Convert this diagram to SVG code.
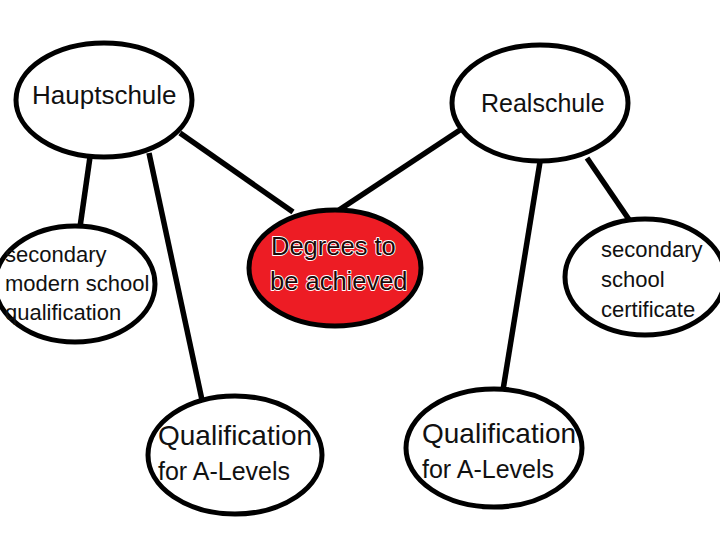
<svg xmlns="http://www.w3.org/2000/svg" width="720" height="540" viewBox="0 0 720 540">
<style>
.node ellipse{fill:#fff;stroke:#000;stroke-width:5}
.node text{font-family:"Liberation Sans",Arial,sans-serif;fill:#111}
.conn line{stroke:#000;stroke-width:5.5;stroke-linecap:butt}
#degrees ellipse{fill:#ed1c24}
#degrees text{fill:#1a0a0a;stroke:#fff;stroke-width:1.8;paint-order:stroke;stroke-linejoin:round}
</style>
<rect width="720" height="540" fill="#fff"/>
<g class="conn" id="connectors">
<line x1="180" y1="133" x2="293" y2="212"/>
<line x1="90" y1="157" x2="80" y2="227"/>
<line x1="149" y1="153" x2="202" y2="400"/>
<line x1="460" y1="130" x2="339" y2="210"/>
<line x1="587" y1="158" x2="630" y2="221"/>
<line x1="540" y1="162" x2="503" y2="390"/>
</g>
<g class="node" id="hauptschule">
<ellipse cx="104" cy="100" rx="88" ry="57"/>
<text x="32" y="104" font-size="26">Hauptschule</text>
</g>
<g class="node" id="realschule">
<ellipse cx="540" cy="103" rx="88" ry="58"/>
<text x="481" y="112" font-size="25">Realschule</text>
</g>
<g class="node" id="degrees">
<ellipse cx="335" cy="268" rx="86" ry="58"/>
<text x="271" y="255" font-size="25.5">Degrees to</text>
<text x="270" y="290" font-size="25.5">be achieved</text>
</g>
<g class="node" id="secondary-modern">
<ellipse cx="75" cy="284" rx="80" ry="58"/>
<text x="5" y="262" font-size="22">secondary</text>
<text x="5" y="291" font-size="22">modern school</text>
<text x="5" y="320" font-size="22">qualification</text>
</g>
<g class="node" id="secondary-cert">
<ellipse cx="645" cy="277" rx="80" ry="58"/>
<text x="601" y="257" font-size="22">secondary</text>
<text x="601" y="287" font-size="22">school</text>
<text x="601" y="317" font-size="22">certificate</text>
</g>
<g class="node" id="alevels-left">
<ellipse cx="235" cy="455" rx="87" ry="59"/>
<text x="158" y="445" font-size="28">Qualification</text>
<text x="158" y="480" font-size="25">for A-Levels</text>
</g>
<g class="node" id="alevels-right">
<ellipse cx="494" cy="448" rx="88" ry="59"/>
<text x="422" y="443" font-size="28">Qualification</text>
<text x="422" y="478" font-size="25">for A-Levels</text>
</g>
</svg>
